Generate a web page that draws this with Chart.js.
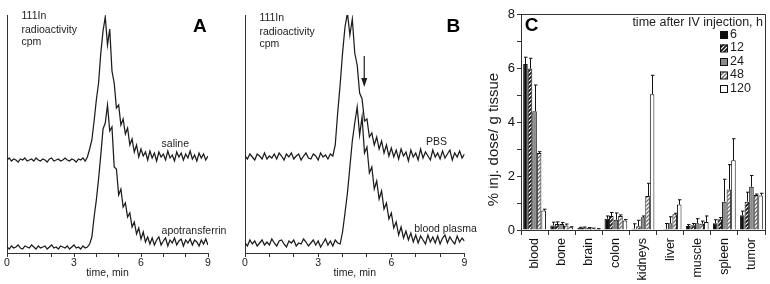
<!DOCTYPE html>
<html><head><meta charset="utf-8">
<script src="https://cdn.jsdelivr.net/npm/chart.js@4"></script>
<style>
html,body{margin:0;padding:0;background:#fff;width:770px;height:284px;overflow:hidden;position:relative}
canvas{position:absolute;top:0}
</style></head><body>
<canvas id="cA" width="232" height="284" style="left:0px"></canvas>
<canvas id="cB" width="262" height="284" style="left:230px"></canvas>
<canvas id="cC" width="282" height="284" style="left:488px"></canvas>
<script>
// ---------- Panels A & B : radio-chromatograms (time 0..9 min, step 0.1) ----------
const timeStep = 0.1;
const salineA = [93,95,92,94,93,91,94,93,95,92,93,94,92,95,93,92,94,93,91,94,95,92,93,94,92,93,95,93,92,94,93,91,94,93,95,92,
  96,104,113,132,153,170,200,222,236,208,224,182,170,145,148,128,134,119,125,108,114,101,108,96,104,
  97,101,93,102,95,100,92,101,96,99,93,102,95,98,92,101,96,100,93,99,95,102,94,98,92,100,95,99,93,97];
const apotransferrinA = [6,4,7,5,6,8,5,4,7,6,5,8,6,4,7,5,6,7,4,6,8,5,6,4,7,6,5,7,4,6,8,5,6,4,7,5,6,
  9,16,36,53,74,98,124,130,148,122,126,86,84,58,64,46,50,36,40,26,31,19,25,14,21,11,
  16,9,15,8,13,16,8,12,15,7,13,10,15,8,12,14,7,13,10,14,8,13,11,7,13,9,14,8];
const pbsB = [97,94,99,96,93,99,97,94,100,94,97,95,99,94,100,97,93,99,96,100,94,97,99,93,97,100,95,94,99,97,93,100,96,98,94,99,97,
  108,140,168,200,226,240,218,234,200,188,160,154,132,134,116,120,108,116,104,112,100,108,97,105,
  96,103,94,104,97,101,92,103,96,100,93,104,95,101,97,93,103,96,100,94,102,95,99,103,93,100,96,102,95,99];
const plasmaB = [10,7,13,9,12,7,10,13,8,11,8,14,10,7,12,13,9,6,12,10,13,7,10,9,14,11,7,10,13,8,12,6,10,14,8,12,7,13,10,9,
  21,40,60,86,112,130,146,118,136,100,106,80,86,64,72,54,62,44,50,34,40,25,31,18,26,15,22,13,
  20,11,18,10,17,13,9,18,11,16,10,17,9,15,18,10,16,12,9,17,11,15,12];
const timeTicks = [0,3,6,9];

// ---------- Panel C : biodistribution ----------
const organs = ['blood','bone','brain','colon','kidneys','liver','muscle','spleen','tumor'];
const seriesNames = ['6','12','24','48','120'];
const h6   = [6.15,0.17,0.08,0.42,0.05,0.02,0.15,0.25,0.55];
const h12  = [5.98,0.22,0.09,0.52,0.14,0.04,0.18,0.40,1.05];
const h24  = [4.40,0.22,0.07,0.38,0.47,0.25,0.25,1.05,1.60];
const h48  = [2.85,0.17,0.06,0.52,1.26,0.58,0.23,1.50,1.30];
const h120 = [0.72,0.10,0.04,0.35,5.03,0.94,0.30,2.58,1.28];
const e6   = [0.25,0.12,0.02,0.10,0.18,0.00,0.05,0.13,0.15];
const e12  = [0.38,0.08,0.02,0.13,0.22,0.20,0.06,0.06,0.35];
const e24  = [0.97,0.06,0.02,0.25,0.05,0.24,0.17,0.83,0.42];
const e48  = [0.05,0.05,0.01,0.04,0.47,0.04,0.10,0.92,0.03];
const e120 = [0.05,0.02,0.01,0.04,0.70,0.18,0.22,0.80,0.08];

const FONT = "'Liberation Sans', Arial, Helvetica, sans-serif";
const INK = '#1c1c1c';

function pts(vals){ return vals.map((v,i)=>({x:+(i*timeStep).toFixed(1), y:v})); }

function textPlugin(items, extra){
  return {id:'txt', afterDraw(chart){
    const ctx=chart.ctx, xs=chart.scales.x, ys=chart.scales.y;
    ctx.save();
    for (const it of items){
      ctx.font = it.font; ctx.fillStyle = it.color || INK;
      ctx.textAlign = it.align || 'left'; ctx.textBaseline = 'middle';
      ctx.fillText(it.text, xs.getPixelForValue(it.x), ys.getPixelForValue(it.y));
    }
    if (extra) extra(chart, ctx, xs, ys);
    ctx.restore();
  }};
}

function chrom(id, padL, padR, upper, lower, items, extra){
  return new Chart(document.getElementById(id), {
    type:'line',
    data:{datasets:[
      {data:pts(upper), borderColor:INK, borderWidth:1.25, pointRadius:0, tension:0},
      {data:pts(lower), borderColor:INK, borderWidth:1.25, pointRadius:0, tension:0}
    ]},
    options:{
      responsive:false, animation:false, events:[],
      layout:{padding:{left:padL,right:padR,top:15,bottom:0}},
      plugins:{legend:{display:false}, tooltip:{enabled:false}},
      scales:{
        x:{type:'linear', min:0, max:9, afterFit:s=>{s.height=31;},
          ticks:{stepSize:1, autoSkip:false, maxRotation:0, padding:0, color:'#222',
                 font:{family:FONT, size:10.5}, callback:v=> timeTicks.includes(v) ? String(v) : ''},
          grid:{drawOnChartArea:false, tickLength:4, color:'#333'},
          border:{color:'#333', width:1},
          title:{display:true, text:'time, min', color:'#222', font:{family:FONT, size:10.5}, padding:{top:0,bottom:5}}
        },
        y:{min:0, max:238, afterFit:s=>{s.width=0;}, ticks:{display:false}, grid:{display:false},
           border:{color:'#333', width:1}}
      }
    },
    plugins:[textPlugin(items, extra)]
  });
}

const small = `10.5px ${FONT}`;
const big = `bold 19px ${FONT}`;

chrom('cA', 7, 24, salineA, apotransferrinA, [
  {text:'111In', x:0.65, y:237, font:small},
  {text:'radioactivity', x:0.65, y:223, font:small},
  {text:'cpm', x:0.65, y:210.5, font:small},
  {text:'A', x:8.64, y:226, font:big, align:'center', color:'#000'},
  {text:'saline', x:6.92, y:109, font:small},
  {text:'apotransferrin', x:6.92, y:22, font:small}
]);

chrom('cB', 15, 27.5, pbsB, plasmaB, [
  {text:'111In', x:0.59, y:235, font:small},
  {text:'radioactivity', x:0.59, y:221, font:small},
  {text:'cpm', x:0.59, y:208.5, font:small},
  {text:'B', x:8.54, y:226, font:big, align:'center', color:'#000'},
  {text:'PBS', x:7.42, y:111, font:small},
  {text:'blood plasma', x:6.94, y:24, font:small}
], (chart, ctx, xs, ys)=>{
  const ax = xs.getPixelForValue(4.89);
  const y0 = ys.getPixelForValue(197), y1 = ys.getPixelForValue(175), tip = ys.getPixelForValue(166);
  ctx.strokeStyle = INK; ctx.lineWidth = 1.2;
  ctx.beginPath(); ctx.moveTo(ax, y0); ctx.lineTo(ax, y1); ctx.stroke();
  ctx.fillStyle = INK; ctx.beginPath();
  ctx.moveTo(ax-3, y1); ctx.lineTo(ax+3, y1); ctx.lineTo(ax, tip); ctx.closePath(); ctx.fill();
});

// ---------- Panel C ----------
function hatch(bg, fg, lw){
  const c=document.createElement('canvas'); c.width=4; c.height=4;
  const g=c.getContext('2d'); g.fillStyle=bg; g.fillRect(0,0,4,4);
  g.strokeStyle=fg; g.lineWidth=lw; g.beginPath();
  g.moveTo(-1,5); g.lineTo(5,-1); g.moveTo(-1,1); g.lineTo(1,-1); g.moveTo(3,5); g.lineTo(5,3); g.stroke();
  return g.createPattern(c,'repeat');
}
const fills = ['#0d0d0d', hatch('#ffffff','#111111',1.7), '#8a8a8a', hatch('#ffffff','#6a6a6a',1.3), '#ffffff'];
const values = [h6,h12,h24,h48,h120];
const errs = [e6,e12,e24,e48,e120];

const errPlugin = {id:'err', afterDatasetsDraw(chart){
  const ctx=chart.ctx, ys=chart.scales.y;
  ctx.save(); ctx.strokeStyle='#111'; ctx.lineWidth=1;
  chart.data.datasets.forEach((ds,i)=>{
    const meta = chart.getDatasetMeta(i);
    meta.data.forEach((bar,j)=>{
      const e = errs[i][j]; if (!e) return;
      const x = Math.round(bar.x)+0.5;
      const yTop = ys.getPixelForValue(ds.data[j]+e);
      ctx.beginPath(); ctx.moveTo(x, bar.y); ctx.lineTo(x, yTop);
      ctx.moveTo(x-1.5, yTop); ctx.lineTo(x+2, yTop); ctx.stroke();
    });
  });
  ctx.restore();
}};

const decoPlugin = {id:'deco', afterDraw(chart){
  const ctx=chart.ctx, a=chart.chartArea, ys=chart.scales.y;
  ctx.save();
  ctx.strokeStyle='#333'; ctx.lineWidth=1;
  ctx.beginPath(); ctx.moveTo(a.left, a.top+0.5); ctx.lineTo(a.right+0.5, a.top+0.5); ctx.lineTo(a.right+0.5, a.bottom); ctx.stroke();
  ctx.fillStyle='#000'; ctx.font=`bold 19px ${FONT}`; ctx.textAlign='center'; ctx.textBaseline='middle';
  ctx.fillText('C', a.left+10.7, a.top+12);
  ctx.fillStyle=INK; ctx.font=`12.5px ${FONT}`; ctx.textAlign='right';
  ctx.fillText('time after IV injection, h', a.right-2, a.top+8.5);
  ctx.textAlign='left'; ctx.font=`12.5px ${FONT}`;
  chart.data.datasets.forEach((ds,i)=>{
    const cy = a.top + 20.5 + 13.5*i;
    const bx = a.right - 45;
    ctx.fillStyle = ds.backgroundColor; ctx.fillRect(bx, cy-3.5, 7.5, 7.5);
    ctx.strokeStyle='#111'; ctx.strokeRect(bx+0.5, cy-3.5+0.5, 7, 7);
    ctx.fillStyle=INK; ctx.fillText(ds.label, a.right-35, cy);
  });
  ctx.save();
  ctx.translate(a.left-27, ys.getPixelForValue(3.35));
  ctx.rotate(-Math.PI/2);
  ctx.textAlign='center'; ctx.font=`15px ${FONT}`; ctx.fillStyle=INK;
  ctx.fillText('% inj. dose/ g tissue', 0, 0);
  ctx.restore();
  ctx.restore();
}};

new Chart(document.getElementById('cC'), {
  type:'bar',
  data:{labels:organs, datasets: values.map((v,i)=>({
    label:seriesNames[i], data:v, backgroundColor:fills[i], borderColor:'#111', borderWidth:1,
    barPercentage:1.0, categoryPercentage:0.84
  }))},
  options:{
    responsive:false, animation:false, events:[],
    layout:{padding:{left:0,right:5,top:14,bottom:0}},
    plugins:{legend:{display:false}, tooltip:{enabled:false}},
    scales:{
      x:{afterFit:s=>{s.height=54;},
        ticks:{minRotation:90, maxRotation:90, autoSkip:false, padding:3, color:'#111', font:{family:FONT, size:12.5}},
        grid:{offset:true, drawOnChartArea:false, tickLength:5, color:'#333'},
        border:{color:'#333', width:1}},
      y:{min:0, max:8, afterFit:s=>{s.width=33;},
        ticks:{stepSize:1, padding:2, color:'#111', font:{family:FONT, size:13}, callback:v=> v%2===0 ? String(v) : ''},
        grid:{drawOnChartArea:false, tickLength:4, color:'#333'},
        border:{color:'#333', width:1}}
    }
  },
  plugins:[errPlugin, decoPlugin]
});
</script>
</body></html>
